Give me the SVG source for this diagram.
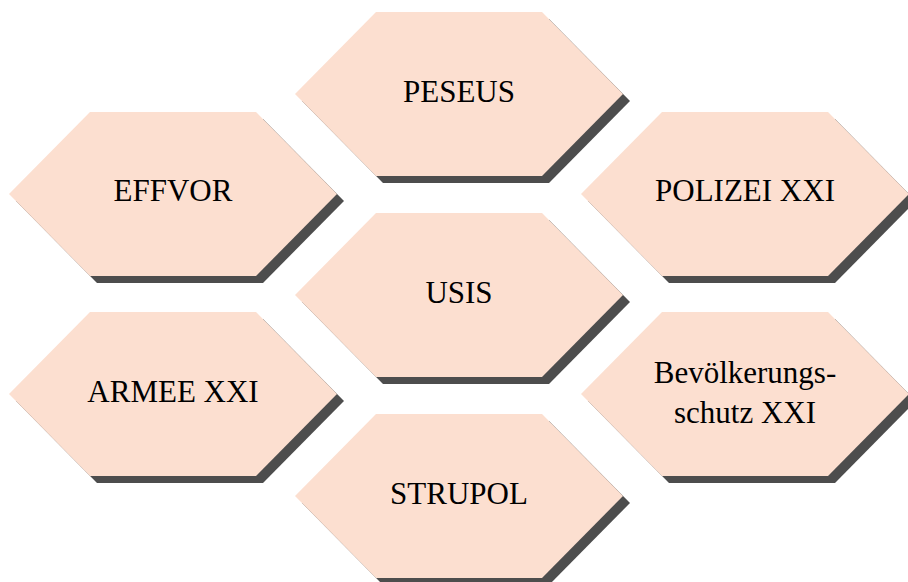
<svg xmlns="http://www.w3.org/2000/svg" width="908" height="582" viewBox="0 0 908 582">
<style>
.hex{fill:#FCDFD0}
.sh{fill:#4D4D4D}
.t{font-family:"Liberation Serif","Times New Roman",serif;font-size:31px;fill:#000;text-anchor:middle}
</style>
<defs>
<polygon id="hx" points="0,82 81,0 247,0 328,82 247,164 81,164"/>
</defs>
<rect width="908" height="582" fill="#fff"/>
<g id="connectors"></g>
<g id="peseus">
<use href="#hx" class="sh" x="302" y="19"/>
<use href="#hx" class="hex" x="295" y="12"/>
<text class="t" x="459" y="102">PESEUS</text>
</g>
<g id="effvor">
<use href="#hx" class="sh" x="16" y="119"/>
<use href="#hx" class="hex" x="9" y="112"/>
<text class="t" x="173" y="201">EFFVOR</text>
</g>
<g id="polizei">
<use href="#hx" class="sh" x="588" y="119"/>
<use href="#hx" class="hex" x="581" y="112"/>
<text class="t" x="745" y="201">POLIZEI XXI</text>
</g>
<g id="usis">
<use href="#hx" class="sh" x="302" y="220"/>
<use href="#hx" class="hex" x="295" y="213"/>
<text class="t" x="459" y="303">USIS</text>
</g>
<g id="armee">
<use href="#hx" class="sh" x="16" y="319"/>
<use href="#hx" class="hex" x="9" y="312"/>
<text class="t" x="173" y="402">ARMEE XXI</text>
</g>
<g id="bevoelkerungsschutz">
<use href="#hx" class="sh" x="588" y="319"/>
<use href="#hx" class="hex" x="581" y="312"/>
<text class="t" x="745" y="383">Bevölkerungs-</text>
<text class="t" x="745" y="423">schutz XXI</text>
</g>
<g id="strupol">
<use href="#hx" class="sh" x="302" y="421"/>
<use href="#hx" class="hex" x="295" y="414"/>
<text class="t" x="459" y="504">STRUPOL</text>
</g>
</svg>
